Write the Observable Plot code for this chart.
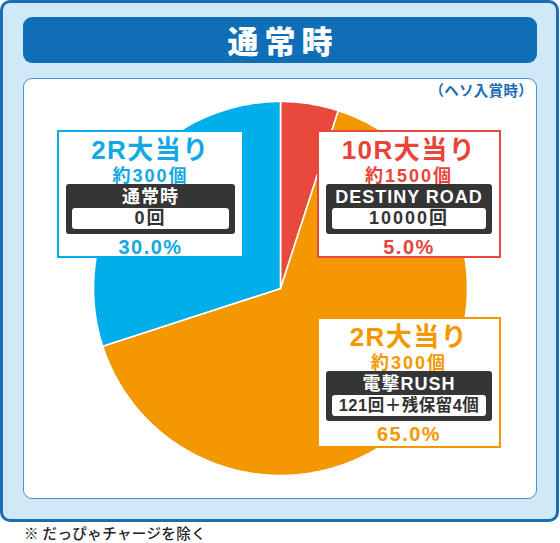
<!DOCTYPE html>
<html><head><meta charset="utf-8">
<script src="https://cdn.jsdelivr.net/npm/d3@7"></script>
<script src="https://cdn.jsdelivr.net/npm/@observablehq/plot@0.6"></script>
<style>
html,body{margin:0;padding:0}
body{width:560px;height:543px;position:relative;overflow:hidden;background:#fff;font-family:"Liberation Sans","Noto Sans CJK JP",sans-serif;}
.abs{position:absolute;box-sizing:border-box}
#frame{left:0;top:0;width:559px;height:522px;background:#cfe9f7;border:3px solid #1a6db5;border-radius:10px}
#titlebar{left:23px;top:17px;width:514px;height:46px;background:#106eb7;border-radius:9px;color:#fff;font-family:"Noto Sans CJK JP",sans-serif;font-weight:900;font-size:31px;letter-spacing:6px;text-align:center;line-height:46px;padding-left:6px}
#panel{left:23px;top:78px;width:514px;height:421px;background:#fff;border:1.5px solid #4d8fd3;border-radius:9px}
#note{right:27px;top:80px;color:#1a6db5;font-family:"Noto Sans CJK JP",sans-serif;font-weight:700;font-size:14.5px;letter-spacing:0.3px;line-height:20px}
#foot{left:24px;top:524px;color:#222;font-family:"Noto Sans CJK JP",sans-serif;font-weight:500;font-size:14.5px;letter-spacing:0.4px;line-height:18px}
#chart{left:90px;top:98px}
.box{background:#fff;border:2px solid}
.box div{position:absolute;left:0;right:0;text-align:center;white-space:nowrap;font-weight:700}
.t1{top:3px;font-size:26px;line-height:30px;letter-spacing:1.5px}
.t2{top:33px;font-size:18px;line-height:22px;letter-spacing:2px}
.dk{background:#353535;border-radius:3px}
.dk .t3{top:2px;font-size:18px;line-height:22px;color:#fff;letter-spacing:1px}
.wh{position:absolute;background:#fff;border-radius:3px}
.wh .t4{top:0;line-height:21px;color:#333}
.t5{font-size:20px;line-height:22px;letter-spacing:1.5px}
</style></head>
<body>
<div id="frame" class="abs"></div>
<div id="titlebar" class="abs">通常時</div>
<div id="panel" class="abs"></div>
<div id="note" class="abs">（ヘソ入賞時）</div>
<div id="chart" class="abs"></div>
<div id="foot" class="abs">※ だっぴゃチャージを除く</div>
<script>
// ---- data ----
const sliceKeys = ["10R", "2R_RUSH", "2R_normal"];
const titles = ["10R大当り", "2R大当り", "2R大当り"];
const payouts = ["約1500個", "約300個", "約300個"];
const modes = ["DESTINY ROAD", "電撃RUSH", "通常時"];
const counts = ["10000回", "121回＋残保留4個", "0回"];
const shares = [5.0, 65.0, 30.0];
const colors = ["#e9483d", "#f39800", "#00aeea"];
const textColors = ["#e8443a", "#f39800", "#12a8e2"];

const rows = sliceKeys.map((k, i) => ({key: k, share: shares[i]}));
const arcs = d3.pie().sort(null).value(d => d.share)(rows);
const pts = [];
for (const a of arcs) {
  const k = a.data.key;
  pts.push({k, x: 0, y: 0});
  const n = Math.max(2, Math.ceil((a.endAngle - a.startAngle) / (Math.PI / 360)));
  for (let i = 0; i <= n; i++) {
    const t = a.startAngle + (a.endAngle - a.startAngle) * i / n;
    pts.push({k, x: Math.sin(t), y: Math.cos(t)});
  }
  pts.push({k, x: 0, y: 0});
}

const plot = Plot.plot({
  width: 380, height: 380, margin: 3,
  style: {background: "transparent", overflow: "visible"},
  x: {domain: [-1, 1], axis: null},
  y: {domain: [-1, 1], axis: null},
  color: {domain: sliceKeys, range: colors},
  marks: [
    Plot.line(pts, {x: "x", y: "y", z: "k", fill: "k", stroke: "#fff", strokeWidth: 1.6, strokeLinejoin: "round", curve: "linear"})
  ]
});
document.getElementById("chart").appendChild(plot);

// ---- label boxes ----
const boxes = [
  {i: 0, left: 317, top: 130, w: 184, h: 128, cs: "font-size:18px;letter-spacing:2px"},
  {i: 1, left: 317, top: 317, w: 184, h: 131, cs: "font-size:16.5px;letter-spacing:0.5px"},
  {i: 2, left: 57, top: 130, w: 187, h: 128, cs: "font-size:18px;letter-spacing:2px"}
];
for (const b of boxes) {
  const i = b.i;
  const el = document.createElement("div");
  el.className = "abs box";
  Object.assign(el.style, {left: b.left + "px", top: b.top + "px", width: b.w + "px", height: b.h + "px", borderColor: colors[i]});
  el.innerHTML = `
    <div class="t1" style="color:${textColors[i]}">${titles[i]}</div>
    <div class="t2" style="color:${textColors[i]}">${payouts[i]}</div>
    <div class="dk" style="left:7px;right:7px;top:52px;height:50px">
      <div class="t3">${modes[i]}</div>
      <div class="wh" style="left:6px;right:6px;top:24px;height:21px"><div class="t4" style="${b.cs}">${counts[i]}</div></div>
    </div>
    <div class="t5" style="top:104px;color:${textColors[i]}">${shares[i].toFixed(1)}%</div>`;
  document.body.appendChild(el);
}
</script>
</body></html>
